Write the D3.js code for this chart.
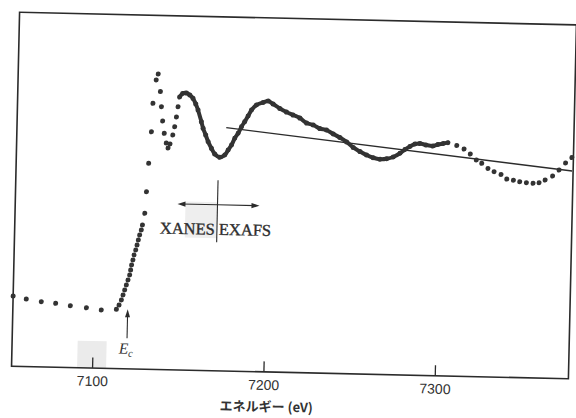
<!DOCTYPE html>
<html>
<head>
<meta charset="utf-8">
<script src="https://cdn.jsdelivr.net/npm/d3@7"></script>
<style>
  body { margin: 0; background: #fff; }
  svg { display: block; }
</style>
</head>
<body>
<svg id="chart" width="576" height="418"></svg>
<script>
// X-ray absorption spectrum across the K edge: photon energy (eV) vs. absorption (arb. units)

// near-edge region, measured point by point
const xanesEnergy = [7053, 7060.7, 7069.5, 7077.9, 7086.5, 7095.9, 7104.6, 7113.4, 7114.9, 7116.2,
  7117.1, 7118.0, 7118.9, 7119.8, 7120.7, 7121.2, 7121.7, 7122.4, 7123.0, 7123.9,
  7124.6, 7125.3, 7126.0, 7126.9, 7127.5, 7128.7, 7129.4, 7130.3, 7131.5, 7132.0,
  7133.6, 7134.7, 7136.2, 7137.0, 7137.9, 7139.0, 7140.3, 7141.4, 7142.5, 7144.0,
  7145.0, 7145.9, 7146.7];
const xanesMu = [0.071, 0.053, 0.038, 0.029, 0.015, 0.004, -0.009, -0.002, 0.027, 0.061,
  0.095, 0.129, 0.163, 0.197, 0.231, 0.264, 0.298, 0.332, 0.366, 0.400,
  0.433, 0.467, 0.501, 0.535, 0.569, 0.648, 0.793, 0.984, 1.197, 1.388,
  1.546, 1.586, 1.468, 1.367, 1.271, 1.188, 1.124, 1.090, 1.117, 1.178,
  1.234, 1.300, 1.369];

// densely sampled extended region
const exafsEnergy = [7147.5, 7149.2, 7151.4, 7153.4, 7155.3, 7157.0, 7158.4, 7160.5, 7161.6, 7163.2,
  7164.7, 7166.7, 7168.7, 7171.7, 7174.6, 7176.5, 7178.4, 7180.2, 7182.1, 7184.0,
  7185.8, 7187.7, 7189.6, 7192.4, 7196.3, 7199.2, 7202.1, 7206.1, 7210.0, 7213.9,
  7217.9, 7221.9, 7225.8, 7229.7, 7233.6, 7237.6, 7241.5, 7245.5, 7249.4, 7253.4,
  7257.3, 7261.2, 7265.2, 7269.1, 7272.9, 7276.8, 7279.6, 7282.5, 7285.4, 7288.3,
  7291.8, 7295.9, 7298.8, 7301.9, 7304.6];
const exafsMu = [1.435, 1.459, 1.463, 1.450, 1.428, 1.390, 1.350, 1.272, 1.228, 1.183,
  1.139, 1.095, 1.057, 1.036, 1.052, 1.086, 1.120, 1.166, 1.200, 1.245,
  1.279, 1.318, 1.358, 1.393, 1.411, 1.421, 1.402, 1.373, 1.350, 1.331,
  1.312, 1.279, 1.267, 1.244, 1.235, 1.210, 1.187, 1.158, 1.122, 1.096,
  1.073, 1.056, 1.047, 1.051, 1.064, 1.090, 1.116, 1.137, 1.155, 1.159,
  1.150, 1.144, 1.155, 1.162, 1.169];

// sparser points at the high-energy end
const tailEnergy = [7309.8, 7314.1, 7317.8, 7321.4, 7324.6, 7328.3, 7331.9, 7336.0, 7339.4, 7343.3,
  7347.0, 7350.9, 7354.8, 7358.3, 7361.8, 7366.1, 7369.8, 7373.5, 7377.1];
const tailMu = [1.151, 1.129, 1.096, 1.057, 1.035, 1.002, 0.981, 0.963, 0.933, 0.926,
  0.917, 0.912, 0.909, 0.913, 0.933, 0.961, 1.002, 1.050, 1.088];

// smooth atomic background drawn through the oscillations
const backgroundEnergy = [7175.1, 7377.4];
const backgroundMu = [1.236, 0.997];

const tickValues = [7100, 7200, 7300];
const edgeEnergy = 7120;      // E_c
const boundaryEnergy = 7171;  // XANES | EXAFS split

const svg = d3.select("#chart");
const frame = { left: 15.5, right: 572.5, top: 18.5, bottom: 372.5 };

const x = d3.scaleLinear().domain([7053, 7378]).range([frame.left, frame.right]);
const y = d3.scaleLinear().domain([-0.4, 1.98]).range([frame.bottom, frame.top]);

// the printed plate sits slightly askew
const g = svg.append("g").attr("transform", "rotate(1.3,293,195)");

const ink = "#2b2b2b";

// faint grey patches on the plate
g.append("rect").attr("x", x(7100) - 15).attr("y", frame.bottom - 27)
  .attr("width", 29).attr("height", 27).attr("fill", "#ebebeb");
g.append("rect").attr("x", x(boundaryEnergy) - 32).attr("y", 204)
  .attr("width", 32).attr("height", 36).attr("fill", "#eeeeee");

// frame
g.append("rect")
  .attr("x", frame.left).attr("y", frame.top)
  .attr("width", frame.right - frame.left).attr("height", frame.bottom - frame.top)
  .attr("fill", "none").attr("stroke", ink).attr("stroke-width", 1.6);

// bottom axis with inward ticks
const axis = g.append("g")
  .attr("transform", `translate(0,${frame.bottom})`)
  .call(d3.axisBottom(x).tickValues(tickValues).tickSize(-10.5).tickPadding(8).tickFormat(d3.format("d")));
axis.select(".domain").remove();
axis.selectAll(".tick line").attr("stroke", ink).attr("stroke-width", 1.3);
axis.selectAll(".tick text")
  .attr("fill", "#333")
  .style("font-family", "'Liberation Sans', Arial, sans-serif")
  .style("font-size", "14px");

// axis title
g.append("text")
  .attr("x", 271).attr("y", 412)
  .attr("text-anchor", "middle")
  .attr("fill", "#333")
  .style("font-family", "'Noto Sans CJK JP', sans-serif")
  .style("font-weight", "bold")
  .style("font-size", "13px")
  .text("エネルギー (eV)");

// background line
const lineGen = d3.line().x(d => x(d[0])).y(d => y(d[1]));
g.append("path")
  .datum(backgroundEnergy.map((e, i) => [e, backgroundMu[i]]))
  .attr("d", lineGen)
  .attr("fill", "none").attr("stroke", ink).attr("stroke-width", 1.4);

// dense region as a heavy trace
const exafsPts = exafsEnergy.map((e, i) => [e, exafsMu[i]]);
g.append("path")
  .datum(exafsPts)
  .attr("d", d3.line().x(d => x(d[0])).y(d => y(d[1])).curve(d3.curveCatmullRom)(exafsPts))
  .attr("fill", "none").attr("stroke", "#333").attr("stroke-width", 4)
  .attr("stroke-linejoin", "round").attr("stroke-linecap", "round");

// all measured points
const allPts = [
  ...xanesEnergy.map((e, i) => [e, xanesMu[i]]),
  ...exafsPts,
  ...tailEnergy.map((e, i) => [e, tailMu[i]])
];
g.append("g").selectAll("circle")
  .data(allPts)
  .join("circle")
  .attr("cx", d => x(d[0]))
  .attr("cy", d => y(d[1]))
  .attr("r", 2.5)
  .attr("fill", "#333");

// XANES / EXAFS split marker
const bx = x(boundaryEnergy);
const arrowY = 206.5;
g.append("line").attr("x1", bx).attr("x2", bx).attr("y1", 182).attr("y2", 244)
  .attr("stroke", ink).attr("stroke-width", 1.1);
g.append("line").attr("x1", bx).attr("x2", bx - 36).attr("y1", arrowY).attr("y2", arrowY)
  .attr("stroke", ink).attr("stroke-width", 1.1);
g.append("line").attr("x1", bx).attr("x2", bx + 38).attr("y1", arrowY).attr("y2", arrowY)
  .attr("stroke", ink).attr("stroke-width", 1.1);
g.append("path").attr("d", `M${bx - 40},${arrowY} l8,-2.6 l0,5.2 Z`).attr("fill", ink);
g.append("path").attr("d", `M${bx + 42},${arrowY} l-8,-2.6 l0,5.2 Z`).attr("fill", ink);

const serif = "'Liberation Serif', 'DejaVu Serif', serif";
g.append("text").attr("x", bx - 2).attr("y", 236.5).attr("text-anchor", "end")
  .attr("fill", "#2e2e2e").attr("stroke", "#2e2e2e").attr("stroke-width", 0.35)
  .style("font-family", serif).style("font-size", "16.5px")
  .text("XANES");
g.append("text").attr("x", bx + 2).attr("y", 236.5).attr("text-anchor", "start")
  .attr("fill", "#2e2e2e").attr("stroke", "#2e2e2e").attr("stroke-width", 0.35)
  .style("font-family", serif).style("font-size", "16.5px")
  .text("EXAFS");

// edge energy marker
const ex = x(edgeEnergy);
g.append("line").attr("x1", ex).attr("x2", ex).attr("y1", 342).attr("y2", 318)
  .attr("stroke", ink).attr("stroke-width", 1.1);
g.append("path").attr("d", `M${ex},${313} l-2.5,8 l5,0 Z`).attr("fill", ink);
const ec = g.append("text").attr("x", ex - 8).attr("y", 357.5)
  .attr("fill", "#333").style("font-family", serif).style("font-style", "italic")
  .style("font-size", "15.5px");
ec.append("tspan").text("E");
ec.append("tspan").attr("dy", 3).style("font-size", "10.5px").text("c");
</script>
</body>
</html>
